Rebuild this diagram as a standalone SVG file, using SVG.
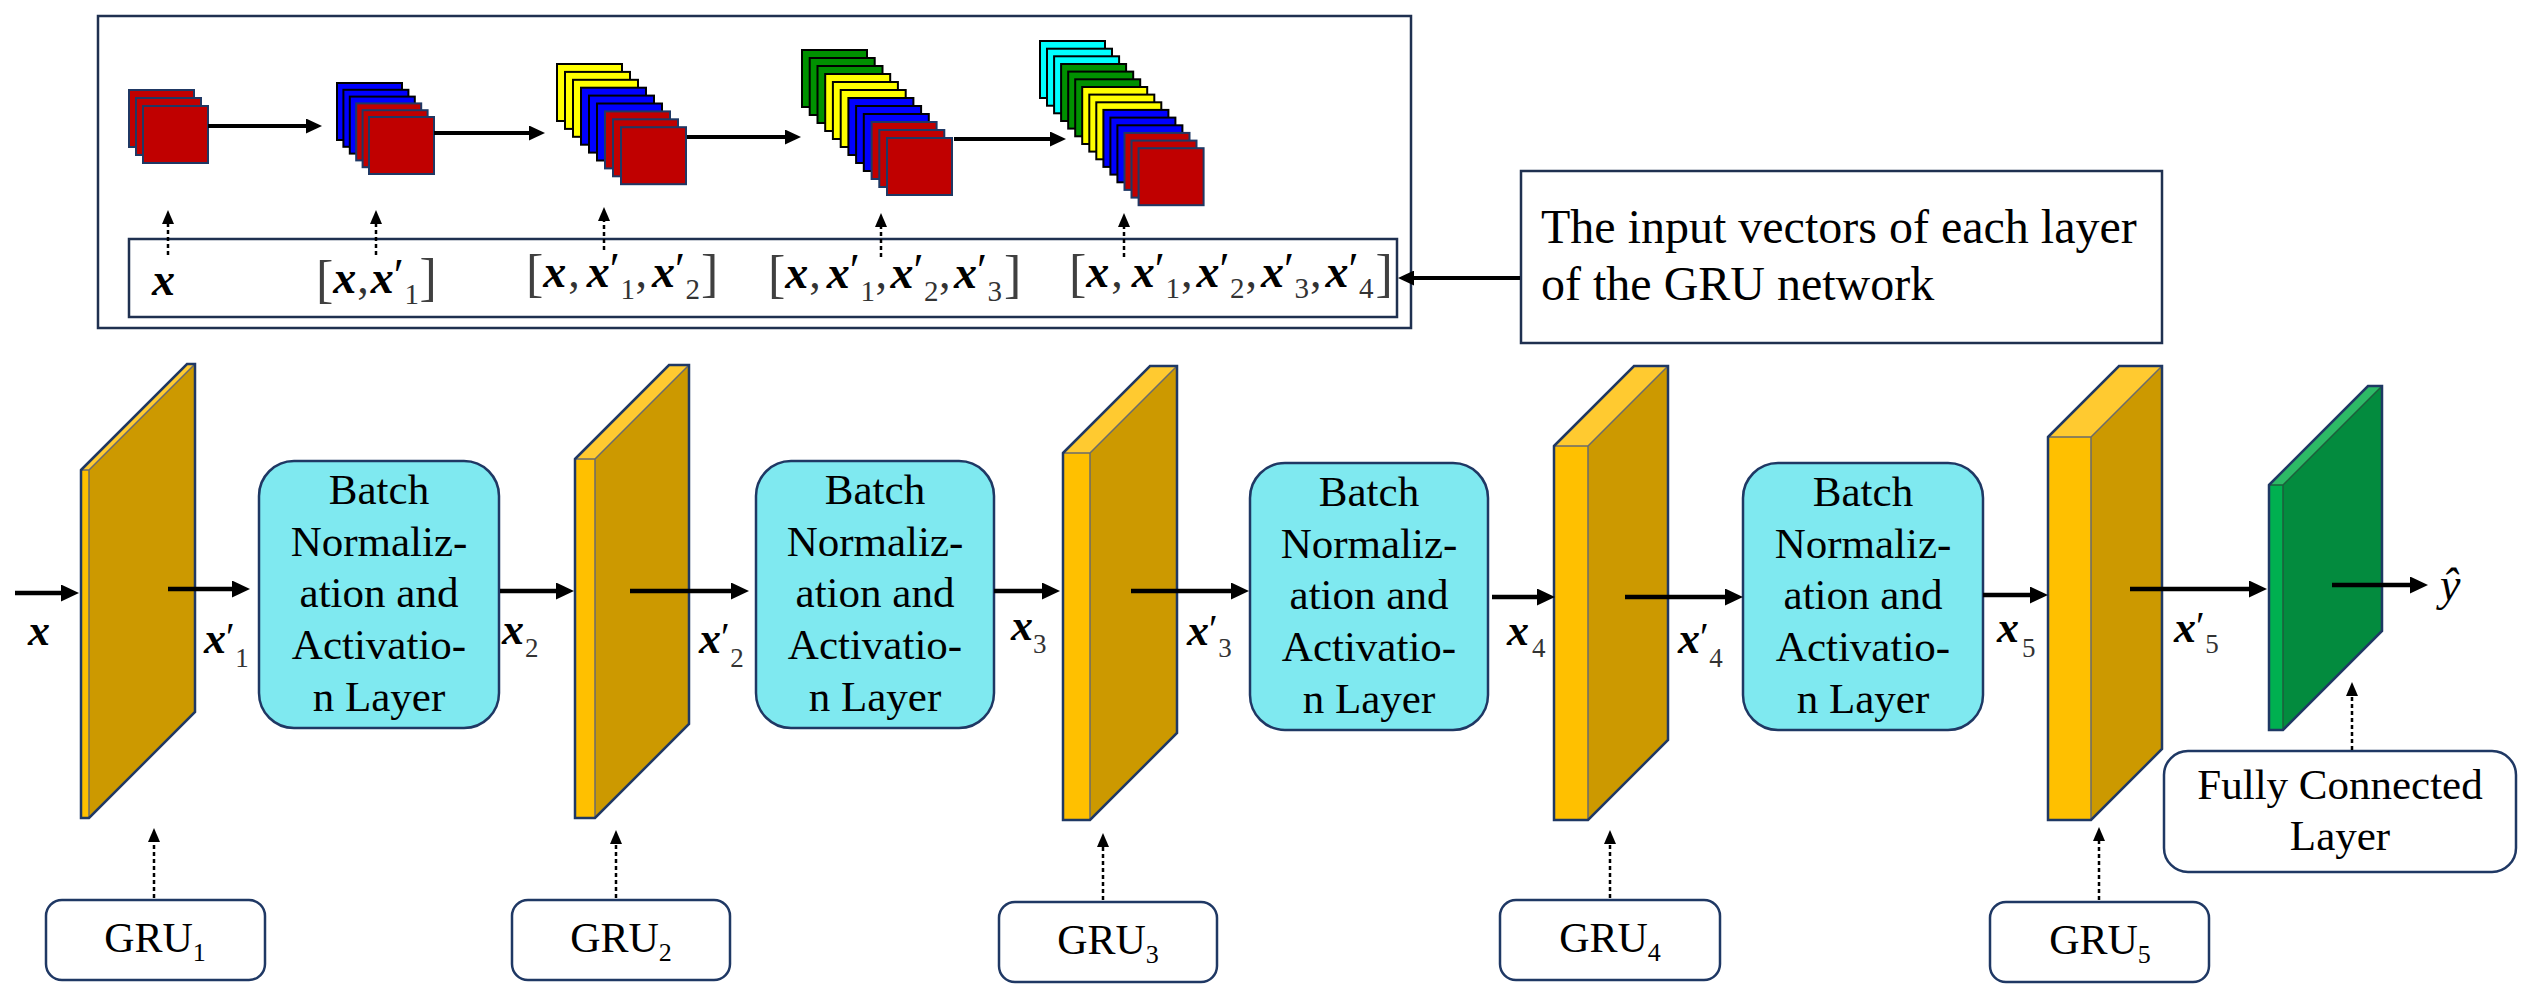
<svg xmlns="http://www.w3.org/2000/svg" width="2532" height="997" viewBox="0 0 2532 997">
<defs>
<style>
.frame{fill:#fff;stroke:#1F3050;stroke-width:2.5}
.bn{fill:#7FE9F0;stroke:#1F3864;stroke-width:2.5}
.lbl{fill:#fff;stroke:#1F3864;stroke-width:2.5}
.t{font-family:"Liberation Serif","Times New Roman",serif;fill:#000}
.bnt{font-size:43px;text-anchor:middle}
.mx{font-family:"Liberation Serif","Times New Roman",serif;font-style:italic;font-weight:bold;fill:#000}
.rg{font-family:"Liberation Serif","Times New Roman",serif;font-style:normal;font-weight:normal;fill:#333}
.br{font-size:52px;fill:#404040}
.sb{font-size:29px}
.pr{fill:#000}
.sqR{fill:#C00000;stroke:#1F3864;stroke-width:2}
.sqB{fill:#0000FF;stroke:#000;stroke-width:2}
.sqY{fill:#FFFF00;stroke:#000;stroke-width:2}
.sqG{fill:#009100;stroke:#000;stroke-width:2}
.sqC{fill:#00FFFF;stroke:#000;stroke-width:2}
.gF{fill:#FFC000}
.gT{fill:#FFCA30}
.gS{fill:#CC9900}
.eF{fill:#00B050}
.eT{fill:#2DBA66}
.eS{fill:#038B3E}
.edge{fill:none;stroke:#6B6B6B;stroke-width:1.5}
.out{fill:none;stroke:#1F3864;stroke-width:2.5;stroke-linejoin:miter}
.arr{fill:none;stroke:#000;stroke-width:4.5;marker-end:url(#ah)}
.arrS{fill:none;stroke:#000;stroke-width:4;marker-end:url(#am)}
.dot{fill:none;stroke:#000;stroke-width:2.5;stroke-dasharray:4 3;marker-end:url(#ad)}
</style>
<marker id="ah" markerUnits="userSpaceOnUse" viewBox="0 0 18 17" markerWidth="18" markerHeight="17" refX="6" refY="8.5" orient="auto"><path d="M0,0 L18,8.5 L0,17 z" fill="#000"/></marker>
<marker id="am" markerUnits="userSpaceOnUse" viewBox="0 0 16 15" markerWidth="16" markerHeight="15" refX="4" refY="7.5" orient="auto"><path d="M0,0 L16,7.5 L0,15 z" fill="#000"/></marker>
<marker id="ad" markerUnits="userSpaceOnUse" viewBox="0 0 14 12" markerWidth="14" markerHeight="12" refX="4" refY="6" orient="auto"><path d="M0,0 L14,6 L0,12 z" fill="#000"/></marker>
</defs>
<rect width="2532" height="997" fill="#fff"/>

<g id="input-vectors-panel">
<rect class="frame" x="98" y="16" width="1313" height="312"/>
<rect class="frame" x="129" y="239" width="1268" height="78"/>
<g id="stack1">
<rect class="sqR" x="129" y="90" width="65" height="57"/>
<rect class="sqR" x="136" y="98" width="65" height="57"/>
<rect class="sqR" x="143" y="106" width="65" height="57"/>
</g>
<g id="stack2">
<rect class="sqB" x="337" y="83" width="65" height="57"/>
<rect class="sqB" x="343.4" y="89.8" width="65" height="57"/>
<rect class="sqB" x="349.8" y="96.6" width="65" height="57"/>
<rect class="sqR" x="356.2" y="103.4" width="65" height="57"/>
<rect class="sqR" x="362.6" y="110.2" width="65" height="57"/>
<rect class="sqR" x="369" y="117" width="65" height="57"/>
</g>
<g id="stack3">
<rect class="sqY" x="557" y="64" width="65" height="57"/>
<rect class="sqY" x="565" y="71.9" width="65" height="57"/>
<rect class="sqY" x="573" y="79.8" width="65" height="57"/>
<rect class="sqB" x="581" y="87.7" width="65" height="57"/>
<rect class="sqB" x="589" y="95.6" width="65" height="57"/>
<rect class="sqB" x="597" y="103.5" width="65" height="57"/>
<rect class="sqR" x="605" y="111.4" width="65" height="57"/>
<rect class="sqR" x="613" y="119.3" width="65" height="57"/>
<rect class="sqR" x="621" y="127.2" width="65" height="57"/>
</g>
<g id="stack4">
<rect class="sqG" x="802" y="50" width="65" height="57"/>
<rect class="sqG" x="809.7" y="58" width="65" height="57"/>
<rect class="sqG" x="817.5" y="66" width="65" height="57"/>
<rect class="sqY" x="825.2" y="74" width="65" height="57"/>
<rect class="sqY" x="832.9" y="82" width="65" height="57"/>
<rect class="sqY" x="840.7" y="90" width="65" height="57"/>
<rect class="sqB" x="848.4" y="98" width="65" height="57"/>
<rect class="sqB" x="856.1" y="106" width="65" height="57"/>
<rect class="sqB" x="863.8" y="114" width="65" height="57"/>
<rect class="sqR" x="871.6" y="122" width="65" height="57"/>
<rect class="sqR" x="879.3" y="130" width="65" height="57"/>
<rect class="sqR" x="887" y="138" width="65" height="57"/>
</g>
<g id="stack5">
<rect class="sqC" x="1040" y="41" width="65" height="57"/>
<rect class="sqC" x="1047" y="48.7" width="65" height="57"/>
<rect class="sqC" x="1054.1" y="56.3" width="65" height="57"/>
<rect class="sqG" x="1061.1" y="64" width="65" height="57"/>
<rect class="sqG" x="1068.2" y="71.6" width="65" height="57"/>
<rect class="sqG" x="1075.2" y="79.3" width="65" height="57"/>
<rect class="sqY" x="1082.2" y="87" width="65" height="57"/>
<rect class="sqY" x="1089.3" y="94.6" width="65" height="57"/>
<rect class="sqY" x="1096.3" y="102.3" width="65" height="57"/>
<rect class="sqB" x="1103.4" y="109.9" width="65" height="57"/>
<rect class="sqB" x="1110.4" y="117.6" width="65" height="57"/>
<rect class="sqB" x="1117.4" y="125.3" width="65" height="57"/>
<rect class="sqR" x="1124.5" y="132.9" width="65" height="57"/>
<rect class="sqR" x="1131.5" y="140.6" width="65" height="57"/>
<rect class="sqR" x="1138.6" y="148.2" width="65" height="57"/>
</g>
<g id="vector-labels">
<text class="mx" font-size="46" x="152" y="295">x</text>
<text class="rg" font-size="46" x="316" y="297"><tspan class="br">[</tspan><tspan class="mx" dy="-4">x</tspan><tspan dx="1">,</tspan><tspan class="mx" dx="2">x</tspan><tspan class="pr" dy="-2">′</tspan><tspan class="sb" dx="0.5" dy="13">1</tspan><tspan class="br" dx="0.5" dy="-9">]</tspan></text>
<text class="rg" font-size="46" x="526" y="291"><tspan class="br">[</tspan><tspan class="mx" dy="-4">x</tspan><tspan dx="2">,</tspan><tspan class="mx" dx="7">x</tspan><tspan class="pr" dy="-2">′</tspan><tspan class="sb" dx="0.5" dy="14">1</tspan><tspan dx="0.5" dy="-12">,</tspan><tspan class="mx" dx="5">x</tspan><tspan class="pr" dy="-2">′</tspan><tspan class="sb" dx="0.5" dy="14">2</tspan><tspan class="br" dx="1" dy="-8">]</tspan></text>
<text class="rg" font-size="46" x="768" y="292"><tspan class="br">[</tspan><tspan class="mx" dy="-4">x</tspan><tspan dx="1">,</tspan><tspan class="mx" dx="6">x</tspan><tspan class="pr" dy="-2">′</tspan><tspan class="sb" dx="0.5" dy="15">1</tspan><tspan dx="0.5" dy="-13">,</tspan><tspan class="mx" dx="3.5">x</tspan><tspan class="pr" dy="-2">′</tspan><tspan class="sb" dx="0.5" dy="15">2</tspan><tspan dx="0.5" dy="-13">,</tspan><tspan class="mx" dx="3.5">x</tspan><tspan class="pr" dy="-2">′</tspan><tspan class="sb" dx="0.5" dy="15">3</tspan><tspan class="br" dx="2" dy="-9">]</tspan></text>
<text class="rg" font-size="46" x="1069" y="291"><tspan class="br">[</tspan><tspan class="mx" dy="-4">x</tspan><tspan dx="2">,</tspan><tspan class="mx" dx="9">x</tspan><tspan class="pr" dy="-2">′</tspan><tspan class="sb" dx="0.5" dy="13">1</tspan><tspan dx="1" dy="-11">,</tspan><tspan class="mx" dx="4">x</tspan><tspan class="pr" dy="-2">′</tspan><tspan class="sb" dx="0.5" dy="13">2</tspan><tspan dx="1" dy="-11">,</tspan><tspan class="mx" dx="4">x</tspan><tspan class="pr" dy="-2">′</tspan><tspan class="sb" dx="0.5" dy="13">3</tspan><tspan dx="1" dy="-11">,</tspan><tspan class="mx" dx="4">x</tspan><tspan class="pr" dy="-2">′</tspan><tspan class="sb" dx="0.5" dy="13">4</tspan><tspan class="br" dx="2" dy="-7">]</tspan></text>
</g>
</g>

<g id="callout">
<rect class="frame" x="1521" y="171" width="641" height="172"/>
<text class="t" font-size="48" x="1541" y="243">The input vectors of each layer</text>
<text class="t" font-size="48" x="1541" y="300">of the GRU network</text>
</g>

<g id="gru-layer1">
<polygon class="gS" points="89,470 195,364 195,712 89,818"/>
<polygon class="gT" points="81,470 89,470 195,364 187,364"/>
<rect class="gF" x="81" y="470" width="8" height="348"/>
<path class="edge" d="M81,470 L89,470 L195,364 M89,470 L89,818"/>
<polygon class="out" points="81,470 187,364 195,364 195,712 89,818 81,818"/>
</g>
<g id="gru-layer2">
<polygon class="gS" points="595,459 689,365 689,724 595,818"/>
<polygon class="gT" points="575,459 595,459 689,365 669,365"/>
<rect class="gF" x="575" y="459" width="20" height="359"/>
<path class="edge" d="M575,459 L595,459 L689,365 M595,459 L595,818"/>
<polygon class="out" points="575,459 669,365 689,365 689,724 595,818 575,818"/>
</g>
<g id="gru-layer3">
<polygon class="gS" points="1090,453 1177,366 1177,733 1090,820"/>
<polygon class="gT" points="1063,453 1090,453 1177,366 1150,366"/>
<rect class="gF" x="1063" y="453" width="27" height="367"/>
<path class="edge" d="M1063,453 L1090,453 L1177,366 M1090,453 L1090,820"/>
<polygon class="out" points="1063,453 1150,366 1177,366 1177,733 1090,820 1063,820"/>
</g>
<g id="gru-layer4">
<polygon class="gS" points="1588,446 1668,366 1668,740 1588,820"/>
<polygon class="gT" points="1554,446 1588,446 1668,366 1634,366"/>
<rect class="gF" x="1554" y="446" width="34" height="374"/>
<path class="edge" d="M1554,446 L1588,446 L1668,366 M1588,446 L1588,820"/>
<polygon class="out" points="1554,446 1634,366 1668,366 1668,740 1588,820 1554,820"/>
</g>
<g id="gru-layer5">
<polygon class="gS" points="2091,437 2162,366 2162,749 2091,820"/>
<polygon class="gT" points="2048,437 2091,437 2162,366 2119,366"/>
<rect class="gF" x="2048" y="437" width="43" height="383"/>
<path class="edge" d="M2048,437 L2091,437 L2162,366 M2091,437 L2091,820"/>
<polygon class="out" points="2048,437 2119,366 2162,366 2162,749 2091,820 2048,820"/>
</g>
<g id="fc-layer">
<polygon class="eS" points="2283,485 2382,386 2382,631 2283,730"/>
<polygon class="eT" points="2269,485 2283,485 2382,386 2368,386"/>
<rect class="eF" x="2269" y="485" width="14" height="245"/>
<path d="M2269,485 L2283,485 L2382,386 M2283,485 L2283,730" fill="none" stroke="#1E5E3C" stroke-width="1.5"/>
<polygon class="out" points="2269,485 2368,386 2382,386 2382,631 2283,730 2269,730"/>
</g>

<g id="bn1">
<rect class="bn" x="259" y="461" width="240" height="267" rx="35"/>
<text class="t bnt" x="379" y="504">Batch</text><text class="t bnt" x="379" y="556">Normaliz-</text><text class="t bnt" x="379" y="607">ation and</text><text class="t bnt" x="379" y="659">Activatio-</text><text class="t bnt" x="379" y="711">n Layer</text>
</g>
<g id="bn2">
<rect class="bn" x="756" y="461" width="238" height="267" rx="35"/>
<text class="t bnt" x="875" y="504">Batch</text><text class="t bnt" x="875" y="556">Normaliz-</text><text class="t bnt" x="875" y="607">ation and</text><text class="t bnt" x="875" y="659">Activatio-</text><text class="t bnt" x="875" y="711">n Layer</text>
</g>
<g id="bn3">
<rect class="bn" x="1250" y="463" width="238" height="267" rx="35"/>
<text class="t bnt" x="1369" y="506">Batch</text><text class="t bnt" x="1369" y="558">Normaliz-</text><text class="t bnt" x="1369" y="609">ation and</text><text class="t bnt" x="1369" y="661">Activatio-</text><text class="t bnt" x="1369" y="713">n Layer</text>
</g>
<g id="bn4">
<rect class="bn" x="1743" y="463" width="240" height="267" rx="35"/>
<text class="t bnt" x="1863" y="506">Batch</text><text class="t bnt" x="1863" y="558">Normaliz-</text><text class="t bnt" x="1863" y="609">ation and</text><text class="t bnt" x="1863" y="661">Activatio-</text><text class="t bnt" x="1863" y="713">n Layer</text>
</g>

<g id="gru1"><rect class="lbl" x="46" y="900" width="219" height="80" rx="16"/><text class="t" font-size="42" x="155" y="952" text-anchor="middle">GRU<tspan font-size="26" dy="9">1</tspan></text></g>
<g id="gru2"><rect class="lbl" x="512" y="900" width="218" height="80" rx="16"/><text class="t" font-size="42" x="621" y="952" text-anchor="middle">GRU<tspan font-size="26" dy="9">2</tspan></text></g>
<g id="gru3"><rect class="lbl" x="999" y="902" width="218" height="80" rx="16"/><text class="t" font-size="42" x="1108" y="954" text-anchor="middle">GRU<tspan font-size="26" dy="9">3</tspan></text></g>
<g id="gru4"><rect class="lbl" x="1500" y="900" width="220" height="80" rx="16"/><text class="t" font-size="42" x="1610" y="952" text-anchor="middle">GRU<tspan font-size="26" dy="9">4</tspan></text></g>
<g id="gru5"><rect class="lbl" x="1990" y="902" width="219" height="80" rx="16"/><text class="t" font-size="42" x="2100" y="954" text-anchor="middle">GRU<tspan font-size="26" dy="9">5</tspan></text></g>
<g id="fcl"><rect class="lbl" x="2164" y="751" width="352" height="121" rx="24"/><text class="t" font-size="43" x="2340" y="799" text-anchor="middle">Fully Connected</text><text class="t" font-size="43" x="2340" y="850" text-anchor="middle">Layer</text></g>

<g id="flow-labels">
<text class="mx" font-size="44" x="28" y="645">x</text>
<text class="mx" font-size="44" x="204" y="653">x<tspan class="rg pr" font-size="40" dy="-3">′</tspan><tspan class="rg" font-size="27" dx="0.5" dy="17">1</tspan></text>
<text class="mx" font-size="44" x="502" y="644">x<tspan class="rg" font-size="27" dx="1" dy="13">2</tspan></text>
<text class="mx" font-size="44" x="699" y="653">x<tspan class="rg pr" font-size="40" dy="-3">′</tspan><tspan class="rg" font-size="27" dx="0.5" dy="17">2</tspan></text>
<text class="mx" font-size="44" x="1011" y="640">x<tspan class="rg" font-size="27" dx="0" dy="13">3</tspan></text>
<text class="mx" font-size="44" x="1187" y="645">x<tspan class="rg pr" font-size="40" dy="-3">′</tspan><tspan class="rg" font-size="27" dx="0.5" dy="15">3</tspan></text>
<text class="mx" font-size="44" x="1507" y="645">x<tspan class="rg" font-size="27" dx="3" dy="12">4</tspan></text>
<text class="mx" font-size="44" x="1678" y="653">x<tspan class="rg pr" font-size="40" dy="-3">′</tspan><tspan class="rg" font-size="27" dx="0.5" dy="17">4</tspan></text>
<text class="mx" font-size="44" x="1997" y="642">x<tspan class="rg" font-size="27" dx="3" dy="15">5</tspan></text>
<text class="mx" font-size="44" x="2174" y="642">x<tspan class="rg pr" font-size="40" dy="-3">′</tspan><tspan class="rg" font-size="27" dx="0.5" dy="14">5</tspan></text>
<text class="rg" font-size="46" x="2440" y="600" style="font-style:italic;fill:#000">ŷ</text>
</g>

<g id="connectors">
<path class="arrS" d="M208,126 L310,126"/>
<path class="arrS" d="M434,133 L533,133"/>
<path class="arrS" d="M687,137 L789,137"/>
<path class="arrS" d="M954,139 L1054,139"/>
<path class="dot" d="M168,255 L168,220"/>
<path class="dot" d="M376,255 L376,220"/>
<path class="dot" d="M604,250 L604,217"/>
<path class="dot" d="M881,257 L881,223"/>
<path class="dot" d="M1124,257 L1124,223"/>
<path class="arrS" d="M1520,278 L1410,278" stroke-width="3"/>
<path class="arr" d="M15,593 L67,593"/>
<path class="arr" d="M168,589 L238,589"/>
<path class="arr" d="M500,591 L562,591"/>
<path class="arr" d="M630,591 L737,591"/>
<path class="arr" d="M994,591 L1048,591"/>
<path class="arr" d="M1131,591 L1237,591"/>
<path class="arr" d="M1492,597 L1543,597"/>
<path class="arr" d="M1625,597 L1731,597"/>
<path class="arr" d="M1983,595 L2036,595"/>
<path class="arr" d="M2130,589 L2255,589"/>
<path class="arr" d="M2332,585 L2416,585"/>
<path class="dot" d="M154,898 L154,838"/>
<path class="dot" d="M616,898 L616,840"/>
<path class="dot" d="M1103,900 L1103,843"/>
<path class="dot" d="M1610,898 L1610,840"/>
<path class="dot" d="M2099,900 L2099,837"/>
<path class="dot" d="M2352,750 L2352,692"/>
</g>
</svg>
